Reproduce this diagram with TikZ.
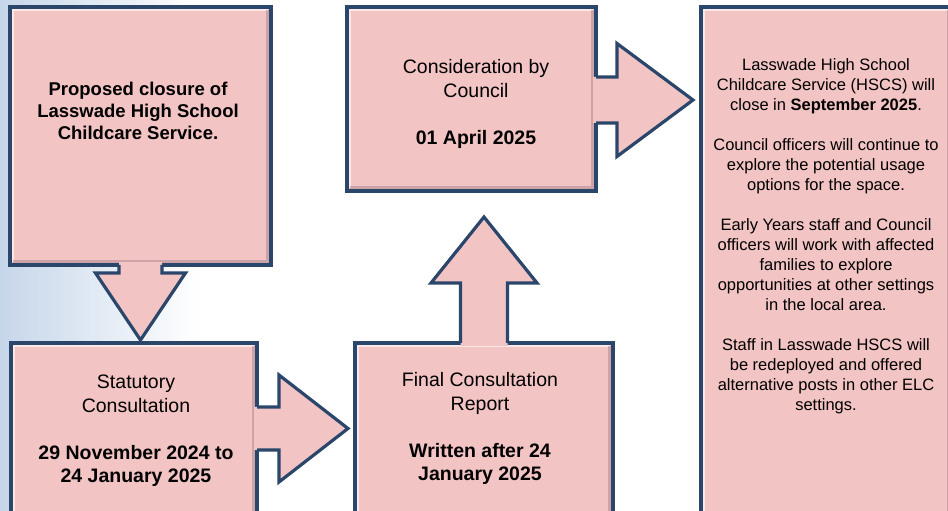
\documentclass[tikz,border=0pt]{standalone}
\usepackage{fontspec}
\setmainfont{Liberation Sans}
\usetikzlibrary{calc}

\definecolor{boxfill}{HTML}{F3C4C4}
\definecolor{edge}{HTML}{2B466B}
\definecolor{bgblue}{HTML}{C6D6EA}
\definecolor{rimshade}{HTML}{9E7F86}

\tikzset{
	stage/.style={draw=edge, line width=3.2pt, fill=boxfill, inner sep=0pt, outer sep=0pt},
	arrowline/.style={draw=edge, line width=3.2pt, line join=miter},
	txt/.style={align=center, inner sep=0pt, font=\fontsize{19.5}{23.5}\selectfont},
}

% block arrow: start, angle, length, head base, stem half width, head half width
\newcommand{\flowarrow}[6]{%
	\begin{scope}[shift={(#1)}, rotate=#2]
	\fill[boxfill] (-3,-#5) -- (#4,-#5) -- (#4,-#6) -- (#3,0) -- (#4,#6) -- (#4,#5) -- (-3,#5) -- cycle;
	\draw[arrowline] (0,-#5) -- (#4,-#5) -- (#4,-#6) -- (#3,0) -- (#4,#6) -- (#4,#5) -- (0,#5);
	\end{scope}}

\begin{document}
\begin{tikzpicture}[x=1pt,y=1pt]
	\useasboundingbox (0,0) rectangle (948,511);
	\shade[left color=bgblue, right color=white] (0,0) rectangle (200,511);

	% boxes
	\node[stage, minimum width=261pt, minimum height=258pt] (prop) at (140.5,375) {};
	\node[stage, minimum width=246pt, minimum height=178pt] (stat) at (134,79) {};
	\node[stage, minimum width=249pt, minimum height=184pt] (cons) at (471.5,412) {};
	\node[stage, minimum width=258pt, minimum height=177pt] (fin) at (484,79.5) {};
	\node[stage, minimum width=251pt, minimum height=513pt] (out) at (826.5,247.5) {};

	% bevel
	\foreach \n in {prop,stat,cons,fin,out}{
		\draw[white, opacity=.6, line width=2pt] ([shift={(3.2,3.2)}]\n.south west) -- ([shift={(3.2,-3.2)}]\n.north west) -- ([shift={(-3.2,-3.2)}]\n.north east);
		\draw[rimshade, opacity=.45, line width=2.5pt] ([shift={(3.2,3.4)}]\n.south west) -- ([shift={(-3.4,3.4)}]\n.south east) -- ([shift={(-3.4,-3.2)}]\n.north east);
	}

	% arrows
	\flowarrow{prop.south}{-90}{75}{8}{21.5}{45}
	\flowarrow{$(stat.east)+(0,3.5)$}{0}{91}{22}{21.5}{53.5}
	\flowarrow{fin.north}{90}{126}{60}{23.5}{53}
	\flowarrow{$(cons.east)+(0,-1)$}{0}{97}{21}{23}{56.5}

	% texts
	\node[txt, font=\fontsize{18.5}{22}\selectfont\bfseries] (propt) at (138,400)
		{Proposed closure of\\Lasswade High School\\Childcare Service.};
	\node[txt] (statt) at (136,80)
		{Statutory\\Consultation\\[23.5pt]\textbf{29 November 2024 to}\\\textbf{24 January 2025}};
	\node[txt] (const) at (476,407)
		{Consideration by\\Council\\[23.5pt]\textbf{01 April 2025}};
	\node[txt] (fint) at (480,82.5)
		{Final Consultation\\Report\\[23.5pt]\textbf{Written after 24}\\\textbf{January 2025}};
	\node[txt, font=\fontsize{16.5}{20}\selectfont] (outt) at (826,275)
		{Lasswade High School\\Childcare Service (HSCS) will\\close in \textbf{September 2025}.\\[20pt]
		Council officers will continue to\\explore the potential usage\\options for the space.\\[20pt]
		Early Years staff and Council\\officers will work with affected\\families to explore\\opportunities at other settings\\in the local area.\\[20pt]
		Staff in Lasswade HSCS will\\be redeployed and offered\\alternative posts in other ELC\\settings.};
\end{tikzpicture}
\end{document}
